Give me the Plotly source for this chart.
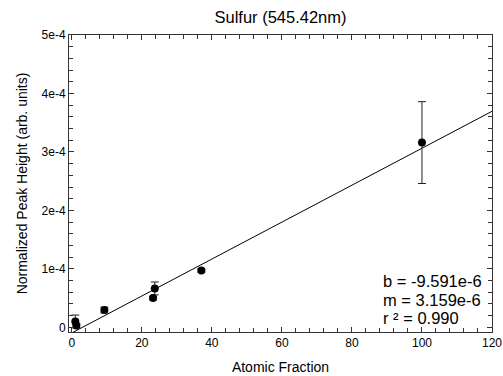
import plotly.graph_objects as go

# Data
atomic_fraction = [1.0, 1.3, 9.3, 23.2, 23.7, 37.0, 100.0]
peak_height = [1.0e-5, 3.0e-6, 2.95e-5, 5.0e-5, 6.65e-5, 9.7e-5, 3.16e-4]
peak_error = [1.1e-5, 3.0e-6, 5.0e-6, 3.0e-6, 1.1e-5, 2.5e-6, 7.0e-5]

fit_b = -9.591e-6
fit_m = 3.159e-6
fit_r2 = 0.990
fit_x = [0, 120]
fit_y = [fit_b + fit_m * x for x in fit_x]

x_tickvals = [0, 20, 40, 60, 80, 100, 120]
x_ticktext = ["0", "20", "40", "60", "80", "100", "120"]
y_tickvals = [0, 1e-4, 2e-4, 3e-4, 4e-4, 5e-4]
y_ticktext = ["0", "1e-4", "2e-4", "3e-4", "4e-4", "5e-4"]

fit_lines = [f"b = {fit_b:.3e}".replace("e-06", "e-6"),
             f"m = {fit_m:.3e}".replace("e-06", "e-6"),
             f"r \u00b2 = {fit_r2:.3f}"]

FONT = "Arial, Liberation Sans, sans-serif"
AXIS_COLOR = "#333333"

fig = go.Figure()
fig.add_trace(go.Scatter(
    x=fit_x, y=fit_y, mode="lines",
    line=dict(color="black", width=1), hoverinfo="skip", showlegend=False,
))
fig.add_trace(go.Scatter(
    x=atomic_fraction, y=peak_height, mode="markers",
    marker=dict(color="black", size=8, symbol="circle"),
    error_y=dict(type="data", array=peak_error, visible=True,
                 color="#222222", thickness=1, width=4),
    showlegend=False, cliponaxis=False,
))

# fit statistics, one annotation per line (paper coords)
line_y = [0.173, 0.109, 0.047]
for txt, yy in zip(fit_lines, line_y):
    fig.add_annotation(
        x=0.738, y=yy, xref="paper", yref="paper", showarrow=False,
        xanchor="left", yanchor="middle", align="left",
        text=txt, font=dict(family=FONT, size=16.5, color="black"),
    )

axis_common = dict(
    showline=True, linecolor=AXIS_COLOR, linewidth=1, mirror="ticks",
    ticks="inside", ticklen=5, tickcolor=AXIS_COLOR, tickwidth=1,
    showgrid=False, zeroline=False, automargin=False,
    ticklabeloverflow="allow",
    tickfont=dict(family=FONT, size=12, color="black"),
)

fig.update_layout(
    width=503, height=376,
    margin=dict(l=69, r=11, t=35, b=44),
    paper_bgcolor="white", plot_bgcolor="white",
    font=dict(family=FONT, color="black"),
    title=dict(text="Sulfur (545.42nm)", x=280.5 / 503, xanchor="center",
               xref="container", yref="container",
               y=1 - 17 / 376, yanchor="middle",
               font=dict(family=FONT, size=16.5, color="black")),
    xaxis=dict(
        range=[-0.8, 120], tickvals=x_tickvals, ticktext=x_ticktext,
        title=dict(text="Atomic Fraction", standoff=12,
                   font=dict(family=FONT, size=14, color="black")),
        minor=dict(ticks="inside", ticklen=4, dtick=4, tick0=0,
                   tickcolor=AXIS_COLOR, showgrid=False),
        **axis_common,
    ),
    yaxis=dict(
        range=[-8e-6, 5e-4], tickvals=y_tickvals, ticktext=y_ticktext,
        title=dict(text="Normalized Peak Height (arb. units)", standoff=10,
                   font=dict(family=FONT, size=14, color="black")),
        minor=dict(ticks="inside", ticklen=4, dtick=2e-5, tick0=0,
                   tickcolor=AXIS_COLOR, showgrid=False),
        **axis_common,
    ),
)

fig.write_html(
    "out.html",
    config={"displayModeBar": False},
    post_script="document.body.style.margin='0';document.body.style.overflow='hidden';",
)
